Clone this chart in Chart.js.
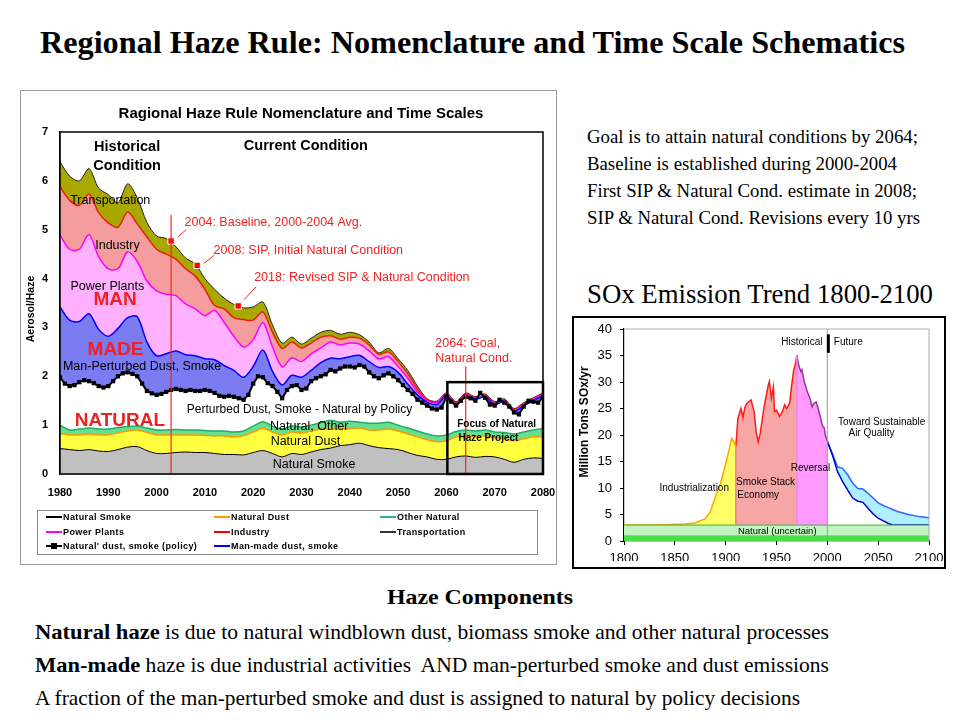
<!DOCTYPE html>
<html>
<head>
<meta charset="utf-8">
<title>Regional Haze Rule</title>
<script src="https://cdn.jsdelivr.net/npm/chart.js@4.4.0/dist/chart.umd.min.js"></script>
<style>
  body { margin: 0; background: #fff; }
  #slide { position: relative; width: 960px; height: 720px; overflow: hidden; background: #fff; color: #000;
           font-family: "Liberation Serif", "Times New Roman", serif; }
  .t { position: absolute; white-space: nowrap; display: inline-block; transform-origin: 0 50%; }
  .frame { position: absolute; box-sizing: border-box; }
  canvas { position: absolute; }
  #legend { position: absolute; left: 37px; top: 510px; width: 501px; height: 45px; box-sizing: border-box;
            border: 1px solid #888; font: bold 9px "Liberation Sans", Arial, sans-serif; letter-spacing: 0.4px; }
  #legend .sw { position: absolute; width: 16px; height: 2px; }
  #legend .mk { position: absolute; left: 5px; top: -2px; width: 6px; height: 6px; background: #000; }
  #legend .lb { position: absolute; line-height: 12px; white-space: nowrap; }
</style>
</head>
<body>
<div id="slide">
  <div class="t" data-w="865" style="left:40px;top:27px;font:bold 31px/32px 'Liberation Serif',serif;">Regional Haze Rule: Nomenclature and Time Scale Schematics</div>

  <div class="frame" style="left:20px;top:90px;width:537px;height:475px;border:1px solid #9a9a9a;"></div>
  <canvas id="haze" width="537" height="475" style="left:20px;top:90px;"></canvas>
  <div id="legend"></div>

  <div class="t" data-w="331" style="left:587px;top:127px;font:18px/20px 'Liberation Serif',serif;">Goal is to attain natural conditions by 2064;</div>
  <div class="t" data-w="310" style="left:587px;top:154px;font:18px/20px 'Liberation Serif',serif;">Baseline is established during 2000-2004</div>
  <div class="t" data-w="330" style="left:587px;top:181px;font:18px/20px 'Liberation Serif',serif;">First SIP &amp; Natural Cond. estimate in 2008;</div>
  <div class="t" data-w="333" style="left:587px;top:208px;font:18px/20px 'Liberation Serif',serif;">SIP &amp; Natural Cond. Revisions every 10 yrs</div>
  <div class="t" data-w="346" style="left:587px;top:279px;font:27px/30px 'Liberation Serif',serif;">SOx Emission Trend 1800-2100</div>

  <div class="frame" style="left:572px;top:316px;width:374px;height:253px;border:2px solid #000;"></div>
  <canvas id="sox" width="370" height="249" style="left:574px;top:318px;"></canvas>

  <div class="t" data-w="186" style="left:387px;top:585px;font:bold 22px/24px 'Liberation Serif',serif;">Haze Components</div>
  <div class="t" data-w="794" style="left:35px;top:619px;font:21px/26px 'Liberation Serif',serif;"><b style="font-size:22px">Natural haze</b> is due to natural windblown dust, biomass smoke and other natural processes</div>
  <div class="t" data-w="794" style="left:35px;top:652px;font:21px/26px 'Liberation Serif',serif;"><b style="font-size:22px">Man-made</b> haze is due industrial activities&nbsp; AND man-perturbed smoke and dust emissions</div>
  <div class="t" data-w="765" style="left:35px;top:685px;font:21px/26px 'Liberation Serif',serif;">A fraction of the man-perturbed smoke and dust is assigned to natural by policy decisions</div>
</div>

<script>
// ---- haze chart data (cumulative top of each layer) ----
const hazeYears = [1980,1982,1984,1986,1988,1990,1992,1994,1996,1998,
                   2000,2002,2004,2006,2008,2010,2012,2014,2016,2018,
                   2020,2022,2024,2026,2028,2030,2032,2034,2036,2038,
                   2040,2042,2044,2046,2048,2050,2052,2054,2056,2058,
                   2060,2062,2064,2066,2068,2070,2072,2074,2076,2078,2080];
const smokeTop = [0.52,0.50,0.48,0.50,0.47,0.46,0.50,0.55,0.56,0.48,
                  0.42,0.42,0.44,0.45,0.44,0.44,0.42,0.40,0.40,0.39,
                  0.44,0.48,0.42,0.35,0.42,0.40,0.45,0.50,0.53,0.58,
                  0.60,0.63,0.58,0.54,0.52,0.50,0.44,0.38,0.35,0.30,
                  0.30,0.35,0.37,0.34,0.36,0.35,0.30,0.24,0.30,0.33,0.32];
const dustTop = [0.83,0.80,0.80,0.82,0.80,0.80,0.84,0.88,0.90,0.85,
                 0.80,0.80,0.80,0.80,0.80,0.79,0.78,0.78,0.76,0.78,
                 0.86,0.93,0.86,0.80,0.86,0.84,0.88,0.92,0.92,0.92,
                 0.93,0.94,0.90,0.90,0.92,0.88,0.82,0.76,0.70,0.66,
                 0.68,0.76,0.78,0.76,0.78,0.74,0.72,0.68,0.72,0.76,0.76];
const otherTop = [1.00,0.90,0.92,0.94,0.92,0.92,0.95,0.97,0.98,0.94,
                  0.90,0.90,0.91,0.90,0.90,0.89,0.88,0.88,0.86,0.88,
                  0.98,1.07,0.98,0.92,0.98,0.96,1.00,1.05,1.10,1.06,
                  1.08,1.06,1.04,1.04,1.06,1.00,0.94,0.88,0.82,0.78,
                  0.80,0.87,0.90,0.88,0.90,0.86,0.85,0.82,0.86,0.90,0.93];
const manMadeTop = [3.42,3.15,3.12,3.28,2.96,2.82,2.98,3.20,3.22,2.70,
                    2.42,2.46,2.52,2.44,2.42,2.36,2.34,2.22,2.12,1.98,
                    2.20,2.54,2.10,1.82,2.02,1.98,2.12,2.28,2.37,2.36,
                    2.40,2.43,2.30,2.18,2.20,2.08,1.84,1.62,1.47,1.42,
                    1.60,1.42,1.60,1.53,1.58,1.42,1.48,1.28,1.40,1.50,1.60];
const powerTop = [4.89,4.60,4.60,4.90,4.45,4.20,4.20,4.55,4.35,3.95,
                  3.75,3.68,3.65,3.48,3.38,3.24,3.35,3.10,2.82,2.60,
                  2.75,3.10,2.60,2.19,2.38,2.30,2.46,2.58,2.70,2.64,
                  2.68,2.66,2.52,2.36,2.40,2.20,1.96,1.68,1.50,1.46,
                  1.62,1.44,1.62,1.55,1.60,1.44,1.50,1.30,1.42,1.53,1.62];
const industryTop = [5.88,5.60,5.50,5.73,5.35,5.14,5.05,5.36,5.12,4.85,
                     4.60,4.50,4.40,4.20,4.05,3.78,3.45,3.38,3.20,3.16,
                     3.15,3.32,2.90,2.57,2.70,2.58,2.68,2.80,2.83,2.76,
                     2.80,2.78,2.64,2.45,2.50,2.30,2.05,1.74,1.52,1.47,
                     1.64,1.46,1.64,1.56,1.62,1.46,1.52,1.32,1.44,1.54,1.64];
const transportTop = [6.39,6.10,6.00,6.25,5.85,5.72,5.55,5.94,5.65,5.15,
                      4.87,4.82,4.65,4.42,4.30,4.00,3.78,3.60,3.47,3.40,
                      3.42,3.52,3.05,2.68,2.80,2.66,2.78,2.90,2.94,2.86,
                      2.90,2.85,2.70,2.48,2.57,2.36,2.12,1.80,1.54,1.49,
                      1.66,1.48,1.66,1.58,1.64,1.48,1.54,1.34,1.46,1.56,1.66];
const policyYears = [1980,1981,1982,1983,1984,1985,1986,1987,1988,1989,
                     1990,1991,1992,1993,1994,1995,1996,1997,1998,1999,
                     2000,2001,2002,2003,2004,2005,2006,2007,2008,2009,
                     2010,2011,2012,2013,2014,2015,2016,2017,2018,2019,
                     2020,2021,2022,2023,2024,2025,2026,2027,2028,2029,
                     2030,2031,2032,2033,2034,2035,2036,2037,2038,2039,
                     2040,2041,2042,2043,2044,2045,2046,2047,2048,2049,
                     2050,2051,2052,2053,2054,2055,2056,2057,2058,2059,
                     2060,2061,2062,2063,2064,2065,2066,2067,2068,2069,
                     2070,2071,2072,2073,2074,2075,2076,2077,2078,2079,2080];
const policyValues = [1.98,1.85,1.80,1.82,1.88,1.92,1.90,1.86,1.80,1.77,
                      1.80,1.90,2.00,2.06,2.08,2.05,2.00,1.85,1.70,1.65,
                      1.62,1.64,1.68,1.72,1.74,1.72,1.70,1.72,1.70,1.70,
                      1.72,1.70,1.66,1.60,1.58,1.60,1.58,1.55,1.52,1.62,
                      1.85,2.00,1.98,1.86,1.80,1.68,1.55,1.72,1.80,1.82,
                      1.72,1.75,1.90,1.96,2.00,2.04,2.13,2.10,2.16,2.20,
                      2.20,2.18,2.23,2.20,2.08,2.00,1.96,2.02,2.06,2.00,
                      1.92,1.82,1.72,1.64,1.52,1.46,1.40,1.34,1.32,1.36,
                      1.58,1.48,1.40,1.50,1.58,1.55,1.50,1.66,1.56,1.42,
                      1.40,1.52,1.46,1.38,1.26,1.22,1.38,1.50,1.48,1.46,1.58];
const milestoneYears = [2003, 2008.4, 2016.9];
const milestoneValues = [4.77, 4.27, 3.44];
const hazeXTicks = [1980, 2080, 10];
const hazeYTicks = [0, 7, 1];

// ---- SOx chart data ----
const naturalYears = [1800, 2100];
const naturalLow = [1.1, 1.1];
const naturalHigh = [3.0, 3.0];
const industrialYears = [1800,1830,1860,1870,1880,1885,1890,1895,1900,1903,1906,1908,1910];
const industrialValues = [3.0,3.0,3.2,3.4,4.2,5.6,8.4,10.9,14.6,16.9,19.4,18.8,17.8];
const smokeStackYears = [1910,1912,1915,1917,1919,1921,1925,1928,1930,1932,
                         1934,1936,1938,1940,1942,1943,1945,1947,1948,1950,
                         1953,1956,1958,1960,1963,1965,1967,1969,1970];
const smokeStackValues = [17.8,23.1,25.0,23.3,25.3,26.0,26.6,24.4,20.6,18.7,
                          20.3,23.0,25.5,27.5,29.5,30.1,26.9,29.1,24.4,24.7,
                          23.5,24.5,25.7,25.0,26.0,29.5,32.3,33.8,35.0];
const reversalYears = [1970,1972,1974,1975,1977,1980,1983,1985,1987,1989,1991,1993,1995,1997,1998,2000];
const reversalValues = [35.0,33.0,32.0,32.3,30.3,28.3,26.9,25.3,26.0,26.2,25.0,23.5,21.8,21.3,20.0,18.8];
const futureYears = [2000,2005,2010,2015,2020,2025,2030,2035,2040,2045,2050,2055,2060,2065,2070,2080,2090,2100];
const futureLow = [18.8,16.2,13.1,11.2,9.6,8.1,7.5,7.3,6.2,5.1,4.3,3.8,3.3,3.0,3.0,3.0,3.0,3.0];
const futureHigh = [18.8,16.5,14.0,13.7,12.5,10.9,9.9,9.8,9.0,8.1,7.2,6.7,6.3,5.9,5.5,5.0,4.6,4.4];
const soxXTicks = [1800, 2100, 50];
const soxYTicks = [0, 40, 5];

const legendItems = [
  { label: 'Natural Smoke', color: '#000' },
  { label: 'Natural Dust', color: '#ff9900' },
  { label: 'Other Natural', color: '#33b27a' },
  { label: 'Power Plants', color: '#ff00ff' },
  { label: 'Industry', color: '#ff0000' },
  { label: 'Transportation', color: '#333' },
  { label: "Natural' dust, smoke (policy)", color: '#000', marker: true },
  { label: 'Man-made dust, smoke', color: '#0000ff' }
];

const SANS = '"Liberation Sans", Arial, sans-serif';
const RED = '#ee2222';
Chart.defaults.font.family = SANS;
Chart.defaults.color = '#000';

const pts = (xs, ys) => xs.map((x, i) => ({ x: x, y: ys[i] }));

function area(label, ys, line, fillColor, fill, width) {
  return { label: label, data: pts(hazeYears, ys), borderColor: line, backgroundColor: fillColor,
           fill: fill, borderWidth: width, pointRadius: 0, tension: 0.3 };
}

// text / line / box annotations placed through the chart scales
const notesPlugin = {
  id: 'notes',
  afterDatasetsDraw(chart, args, opts) {
    const ctx = chart.ctx, a = chart.chartArea;
    const X = v => chart.scales.x.getPixelForValue(v);
    const Y = v => chart.scales.y.getPixelForValue(v);
    ctx.save();
    (opts.lines || []).forEach(l => {
      ctx.beginPath();
      ctx.strokeStyle = l.c;
      ctx.lineWidth = l.w || 1;
      ctx.moveTo(X(l.x1), Y(l.y1));
      ctx.lineTo(X(l.x2), Y(l.y2));
      ctx.stroke();
    });
    (opts.boxes || []).forEach(b => {
      ctx.strokeStyle = b.c;
      ctx.lineWidth = b.w;
      ctx.strokeRect(X(b.x1), Y(b.y2), X(b.x2) - X(b.x1), Y(b.y1) - Y(b.y2));
    });
    if (opts.frame) {
      ctx.strokeStyle = opts.frame.c;
      ctx.lineWidth = opts.frame.w;
      ctx.strokeRect(a.left, a.top, a.right - a.left, a.bottom - a.top);
    }
    ctx.textBaseline = 'middle';
    (opts.texts || []).forEach(n => {
      ctx.font = n.f + ' ' + SANS;
      ctx.fillStyle = n.c || '#000';
      ctx.textAlign = n.a || 'center';
      const px = n.px !== undefined ? n.px : X(n.x);
      const py = n.py !== undefined ? n.py : Y(n.y);
      ctx.save();
      ctx.translate(px, py);
      if (n.rot) ctx.rotate(n.rot);
      ctx.fillText(n.t, 0, 0);
      ctx.restore();
    });
    ctx.restore();
  }
};

function axis(ticks, fitSize, isX, bold, pad, size, tickLen) {
  return {
    type: 'linear', min: ticks[0], max: ticks[1],
    afterFit: s => {
      if (isX) { s.height = fitSize; s.paddingLeft = 0; s.paddingRight = 0; }
      else { s.width = fitSize; s.paddingTop = 0; s.paddingBottom = 0; }
    },
    grid: tickLen ? { display: true, drawOnChartArea: false, drawTicks: true, tickLength: tickLen, color: '#000' }
                  : { display: false, drawTicks: false },
    border: { display: true, color: '#000', width: 1.2 },
    ticks: { stepSize: ticks[2], padding: pad, autoSkip: false, maxRotation: 0, color: '#000',
             font: { size: size, weight: bold ? 'bold' : 'normal' }, callback: v => v }
  };
}

new Chart(document.getElementById('haze'), {
  type: 'line',
  data: {
    datasets: [
      area('Natural Smoke', smokeTop, '#000', '#c0c0c0', 'origin', 1),
      area('Natural Dust', dustTop, '#ff9900', '#ffff40', '-1', 1.5),
      area('Other Natural', otherTop, '#22aa66', '#66e08e', '-1', 1.5),
      { label: "Natural' dust, smoke (policy)", data: pts(policyYears, policyValues), borderColor: '#000',
        borderWidth: 2, pointStyle: 'rect', pointRadius: 3, pointBackgroundColor: '#000',
        pointBorderWidth: 0, fill: false, tension: 0 },
      area('Man-made dust, smoke', manMadeTop, '#0000ff', '#7b7bf2', '-1', 1.5),
      area('Power Plants', powerTop, '#ff00ff', '#ffb0ff', '-1', 1.5),
      area('Industry', industryTop, '#e8200c', '#f59c9c', '-1', 1.5),
      area('Transportation', transportTop, '#222', '#a8a800', '-1', 1),
      { label: 'Milestones', data: pts(milestoneYears, milestoneValues), showLine: false, order: -1,
        pointStyle: 'rect', pointRadius: 4.5, pointBackgroundColor: '#ff0000',
        pointBorderColor: '#fff', pointBorderWidth: 1 }
    ]
  },
  options: {
    responsive: false, animation: false,
    layout: { padding: { left: 10, right: 14, top: 42, bottom: 61 } },
    scales: {
      x: axis(hazeXTicks, 30, true, true, 12, 11, 0),
      y: axis(hazeYTicks, 30, false, true, 12, 11, 0)
    },
    plugins: {
      legend: { display: false }, tooltip: { enabled: false },
      notes: {
        frame: { c: '#000', w: 1.5 },
        lines: [
          { x1: 2003, y1: 0, x2: 2003, y2: 5.3, c: '#ff2020', w: 1.2 },
          { x1: 2064, y1: 0, x2: 2064, y2: 2.2, c: '#ff2020', w: 1.2 },
          { x1: 2004.4, y1: 4.85, x2: 2006.1, y2: 5.0, c: RED, w: 1 },
          { x1: 2009.8, y1: 4.31, x2: 2012.0, y2: 4.48, c: RED, w: 1 },
          { x1: 2018.1, y1: 3.57, x2: 2020.6, y2: 3.83, c: RED, w: 1 }
        ],
        boxes: [ { x1: 2060.2, y1: 0, x2: 2080, y2: 1.88, c: '#000', w: 2.5 } ],
        texts: [
          { t: 'Ragional Haze Rule Nomenclature and Time Scales', px: 281, py: 24, f: 'bold 15px' },
          { t: 'Aerosol/Haze', px: 11, py: 219, f: 'bold 10.5px', rot: -Math.PI / 2 },
          { t: 'Historical', x: 1993.9, y: 6.69, f: 'bold 14.5px' },
          { t: 'Condition', x: 1993.9, y: 6.30, f: 'bold 14.5px' },
          { t: 'Current Condition', x: 2030.9, y: 6.71, f: 'bold 14.5px' },
          { t: 'Transportation', x: 1990.4, y: 5.60, f: '12.5px' },
          { t: 'Industry', x: 1991.9, y: 4.68, f: '12.5px' },
          { t: 'Power Plants', x: 1989.8, y: 3.84, f: '12.5px' },
          { t: 'MAN', x: 1991.4, y: 3.56, f: 'bold 19px', c: RED },
          { t: 'MADE', x: 1991.5, y: 2.55, f: 'bold 19px', c: RED },
          { t: 'Man-Perturbed Dust, Smoke', x: 1997.0, y: 2.19, f: '12.5px' },
          { t: 'NATURAL', x: 1992.4, y: 1.09, f: 'bold 19px', c: RED },
          { t: 'Perturbed Dust, Smoke - Natural by Policy', x: 2029.6, y: 1.31, f: '12px' },
          { t: 'Natural, Other', x: 2031.6, y: 0.97, f: '12.5px' },
          { t: 'Natural Dust', x: 2030.8, y: 0.66, f: '12.5px' },
          { t: 'Natural Smoke', x: 2032.6, y: 0.20, f: '12.5px' },
          { t: 'Focus of Natural', x: 2070.4, y: 1.02, f: 'bold 10px' },
          { t: 'Haze Project', x: 2068.7, y: 0.74, f: 'bold 10px' },
          { t: '2064: Goal,', x: 2057.7, y: 2.67, f: '12.5px', c: RED, a: 'left' },
          { t: 'Natural Cond.', x: 2057.7, y: 2.37, f: '12.5px', c: RED, a: 'left' },
          { t: '2004: Baseline, 2000-2004 Avg.', x: 2005.8, y: 5.14, f: '12.5px', c: RED, a: 'left' },
          { t: '2008: SIP, Initial Natural Condition', x: 2011.8, y: 4.58, f: '12.5px', c: RED, a: 'left' },
          { t: '2018: Revised SIP & Natural Condition', x: 2020.2, y: 4.02, f: '12.5px', c: RED, a: 'left' }
        ]
      }
    }
  },
  plugins: [notesPlugin]
});

new Chart(document.getElementById('sox'), {
  type: 'line',
  data: {
    datasets: [
      { label: 'Natural low', data: pts(naturalYears, naturalLow), fill: 'origin', backgroundColor: '#4cdc4c', borderWidth: 0 },
      { label: 'Natural (uncertain)', data: pts(naturalYears, naturalHigh), fill: '-1', backgroundColor: '#c2f5c2', borderColor: '#40b040', borderWidth: 1 },
      { label: 'Industrialization', data: pts(industrialYears, industrialValues), fill: 1, backgroundColor: '#ffff66', borderColor: '#ffa500', borderWidth: 1.5 },
      { label: 'Smoke Stack Economy', data: pts(smokeStackYears, smokeStackValues), fill: 1, backgroundColor: '#f7a6a6', borderColor: '#ff1a1a', borderWidth: 1.5 },
      { label: 'Reversal', data: pts(reversalYears, reversalValues), fill: 1, backgroundColor: '#ff99ff', borderColor: '#993399', borderWidth: 1.5 },
      { label: 'Future low', data: pts(futureYears, futureLow), fill: false, borderColor: '#0000cc', borderWidth: 1.5 },
      { label: 'Future high', data: pts(futureYears, futureHigh), fill: '-1', backgroundColor: '#aef0ff', borderColor: '#3366ff', borderWidth: 1.5 }
    ]
  },
  options: {
    responsive: false, animation: false,
    elements: { point: { radius: 0 }, line: { tension: 0 } },
    layout: { padding: { left: 10, right: 15, top: 11, bottom: 6 } },
    scales: {
      x: axis(soxXTicks, 20, true, false, 6, 13, 4),
      y: axis(soxYTicks, 40, false, false, 8, 13, 4)
    },
    plugins: {
      legend: { display: false }, tooltip: { enabled: false },
      notes: {
        lines: [
          { x1: 1800, y1: 40, x2: 2100, y2: 40, c: '#aaa', w: 1 },
          { x1: 2100, y1: 0, x2: 2100, y2: 40, c: '#aaa', w: 1 },
          { x1: 1910, y1: 3, x2: 1910, y2: 17.8, c: '#f08080', w: 1.5 },
          { x1: 1970, y1: 3, x2: 1970, y2: 35, c: '#ee88dd', w: 1.5 },
          { x1: 2000, y1: 0, x2: 2000, y2: 40, c: '#999', w: 1 },
          { x1: 2001, y1: 35.5, x2: 2001, y2: 39, c: '#000', w: 3 }
        ],
        texts: [
          { t: 'Million Tons SOx/yr', px: 11, py: 104, f: 'bold 12px', rot: -Math.PI / 2 },
          { t: 'Historical', x: 1995.2, y: 37.5, f: '10px', a: 'right' },
          { t: 'Future', x: 2006.4, y: 37.5, f: '10px', a: 'left' },
          { t: 'Toward Sustainable', x: 2010.6, y: 22.4, f: '10px', a: 'left' },
          { t: 'Air Quality', x: 2020.8, y: 20.3, f: '10px', a: 'left' },
          { t: 'Reversal', x: 1983.4, y: 13.7, f: '10px' },
          { t: 'Smoke Stack', x: 1939.2, y: 11.0, f: '10px' },
          { t: 'Economy', x: 1932, y: 8.7, f: '10px' },
          { t: 'Industrialization', x: 1869.1, y: 9.9, f: '10px' },
          { t: 'Natural (uncertain)', x: 1950.7, y: 1.8, f: '9.5px' }
        ]
      }
    }
  },
  plugins: [notesPlugin]
});

// legend box under the haze chart
const legend = document.getElementById('legend');
const colLeft = [8, 176, 342];
const rowMid = [6, 21, 35];
legendItems.forEach((item, i) => {
  const col = i % 3, row = Math.floor(i / 3);
  const sw = document.createElement('div');
  sw.className = 'sw';
  sw.style.left = colLeft[col] + 'px';
  sw.style.top = (rowMid[row] - 1) + 'px';
  sw.style.background = item.color;
  if (item.marker) {
    const mk = document.createElement('div');
    mk.className = 'mk';
    sw.appendChild(mk);
  }
  legend.appendChild(sw);
  const lb = document.createElement('div');
  lb.className = 'lb';
  lb.textContent = item.label;
  lb.style.left = (colLeft[col] + 17) + 'px';
  lb.style.top = (rowMid[row] - 6) + 'px';
  legend.appendChild(lb);
});

// squeeze the slide texts to the widths they have in the picture
function fitTexts() {
  document.querySelectorAll('[data-w]').forEach(el => {
    el.style.transform = 'none';
    const w = el.getBoundingClientRect().width;
    el.style.transform = 'scaleX(' + (el.dataset.w / w) + ')';
  });
}
fitTexts();
if (document.fonts) document.fonts.ready.then(fitTexts);
</script>
</body>
</html>
